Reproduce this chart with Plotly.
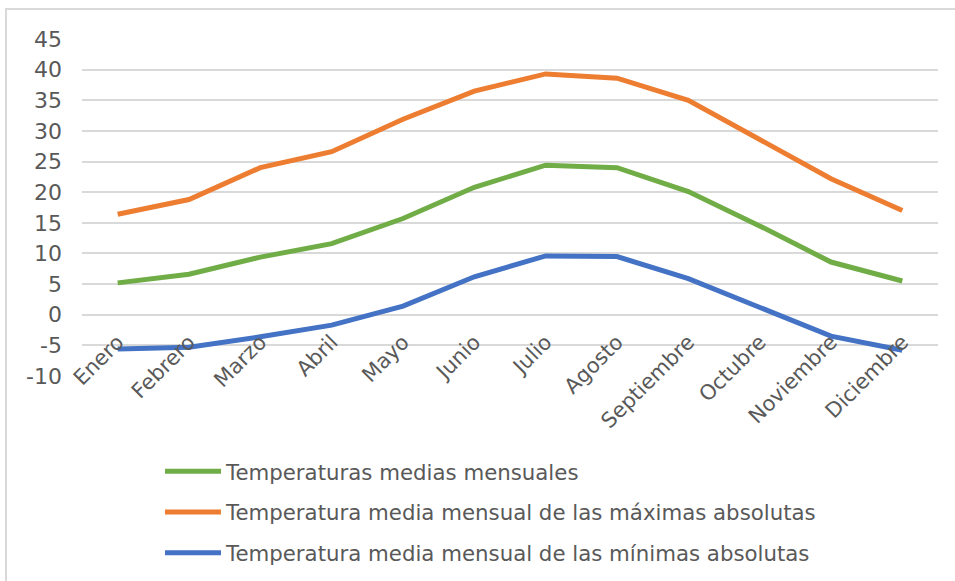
import plotly.graph_objects as go

meses = ["Enero", "Febrero", "Marzo", "Abril", "Mayo", "Junio", "Julio",
         "Agosto", "Septiembre", "Octubre", "Noviembre", "Diciembre"]

medias = [5.2, 6.6, 9.4, 11.6, 15.7, 20.8, 24.4, 24.0, 20.1, 14.5, 8.6, 5.5]
maximas = [16.4, 18.8, 24.0, 26.6, 31.9, 36.5, 39.3, 38.6, 35.0, 28.7, 22.2, 17.0]
minimas = [-5.6, -5.3, -3.6, -1.7, 1.4, 6.2, 9.6, 9.5, 5.9, 1.2, -3.5, -5.8]

y_ticks = list(range(-10, 50, 5))
y_tick_labels = [str(v) for v in y_ticks]  # plain hyphen for negatives

series = [
    ("Temperaturas medias mensuales", medias, "#70AD47"),
    ("Temperatura media mensual de las máximas absolutas", maximas, "#ED7D31"),
    ("Temperatura media mensual de las mínimas absolutas", minimas, "#4472C4"),
]

FONT = "DejaVu Sans, Verdana, sans-serif"
TEXT = "#595959"

fig = go.Figure()
for i, (nombre, valores, color) in enumerate(series):
    fig.add_trace(go.Scatter(
        x=meses, y=valores, name=nombre, mode="lines",
        legendgroup=f"g{i}",
        line=dict(color=color, width=5, shape="linear"),
    ))

fig.update_layout(
    width=955, height=581,
    margin=dict(l=82, r=17, t=39, b=205, autoexpand=False),
    paper_bgcolor="white", plot_bgcolor="white",
    font=dict(family=FONT, color=TEXT, size=21),
    showlegend=True,
    legend=dict(
        xref="container", yref="container",
        x=160 / 955, y=1 - 451 / 581,
        xanchor="left", yanchor="top",
        orientation="v", itemwidth=56,
        tracegroupgap=10,
        font=dict(family=FONT, size=21.3, color=TEXT),
        bgcolor="rgba(0,0,0,0)",
    ),
    shapes=[dict(
        type="rect", xref="paper", yref="paper",
        x0=-76 / 856, x1=1.2, y0=-0.8, y1=1 + 30 / 336.7,
        line=dict(color="#D9D9D9", width=2), fillcolor="rgba(0,0,0,0)",
        layer="below",
    )],
)

fig.update_yaxes(
    range=[-10, 45], tickvals=y_ticks, ticktext=y_tick_labels,
    showgrid=True, gridcolor="#D9D9D9", gridwidth=2,
    zeroline=False, showline=False, ticks="",
    automargin=False,
    ticklabelstandoff=19,
    tickfont=dict(family=FONT, size=22, color=TEXT),
)

fig.update_xaxes(
    type="category", range=[-0.5, 11.5],
    anchor="free", position=10 / 55,
    showgrid=False, zeroline=False, showline=False, ticks="",
    automargin=False,
    tickangle=-45,
    ticklabelstandoff=10,
    tickfont=dict(family=FONT, size=21, color=TEXT),
)

fig.write_html("out.html")
